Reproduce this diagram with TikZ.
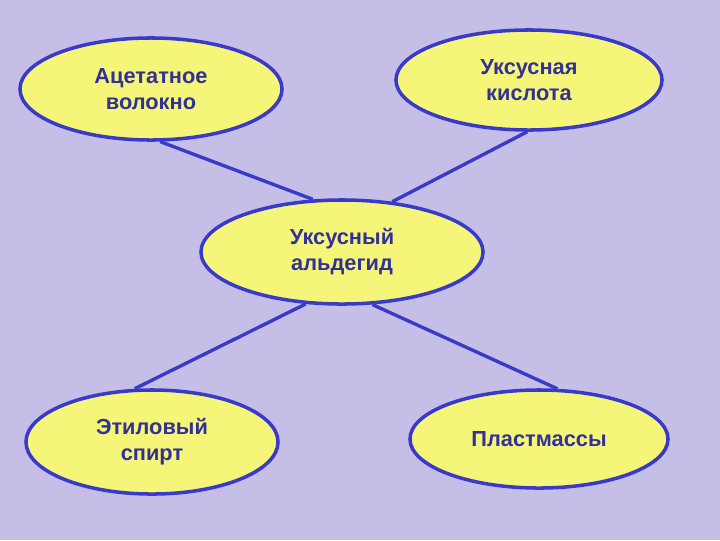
\documentclass[tikz,border=0pt]{standalone}
\usepackage{fontspec}
\setmainfont{Liberation Sans}
\usepackage{tikz}
\usetikzlibrary{shapes.geometric}
\usetikzlibrary{positioning}

\definecolor{fonlila}{RGB}{197,190,230}
\definecolor{oval}{RGB}{245,245,122}
\definecolor{kontur}{RGB}{58,58,200}
\definecolor{tekst}{RGB}{50,50,150}

\begin{document}
\begin{tikzpicture}[x=0.025cm, y=-0.025cm,
        term/.style={ellipse, draw=kontur, fill=oval, line width=2.5pt, inner sep=0pt,
                     text=tekst, font=\fontsize{15.5}{18.5}\selectfont\bfseries, align=center},
        svyaz/.style={draw=kontur, line width=2.4pt}]
        \fill[fonlila] (0,0) rectangle (720,540);
        \useasboundingbox (0,0) rectangle (720,540);

        \node[term, minimum width=6.55cm, minimum height=2.55cm] (volokno) at (151,89) {Ацетатное\\волокно};
        \node[term, minimum width=6.65cm, minimum height=2.5cm] (kislota) at (529,80) {Уксусная\\кислота};
        \node[term, minimum width=7.05cm, minimum height=2.6cm] (aldegid) at (342,252) {Уксусный\\альдегид};
        \node[term, minimum width=6.3cm, minimum height=2.6cm] (spirt) at (152,442) {Этиловый\\спирт};
        \node[term, minimum width=6.45cm, minimum height=2.45cm] (plast) at (539,439) {Пластмассы};

        % связи с центральным овалом
        \path[svyaz] (volokno.-80) edge (aldegid.119);
        \path[svyaz] (kislota.-92) edge (aldegid.45);
        \path[svyaz] (spirt.108) edge (aldegid.235);
        \path[svyaz] (plast.70) edge (aldegid.-60);
    \end{tikzpicture}
\end{document}
